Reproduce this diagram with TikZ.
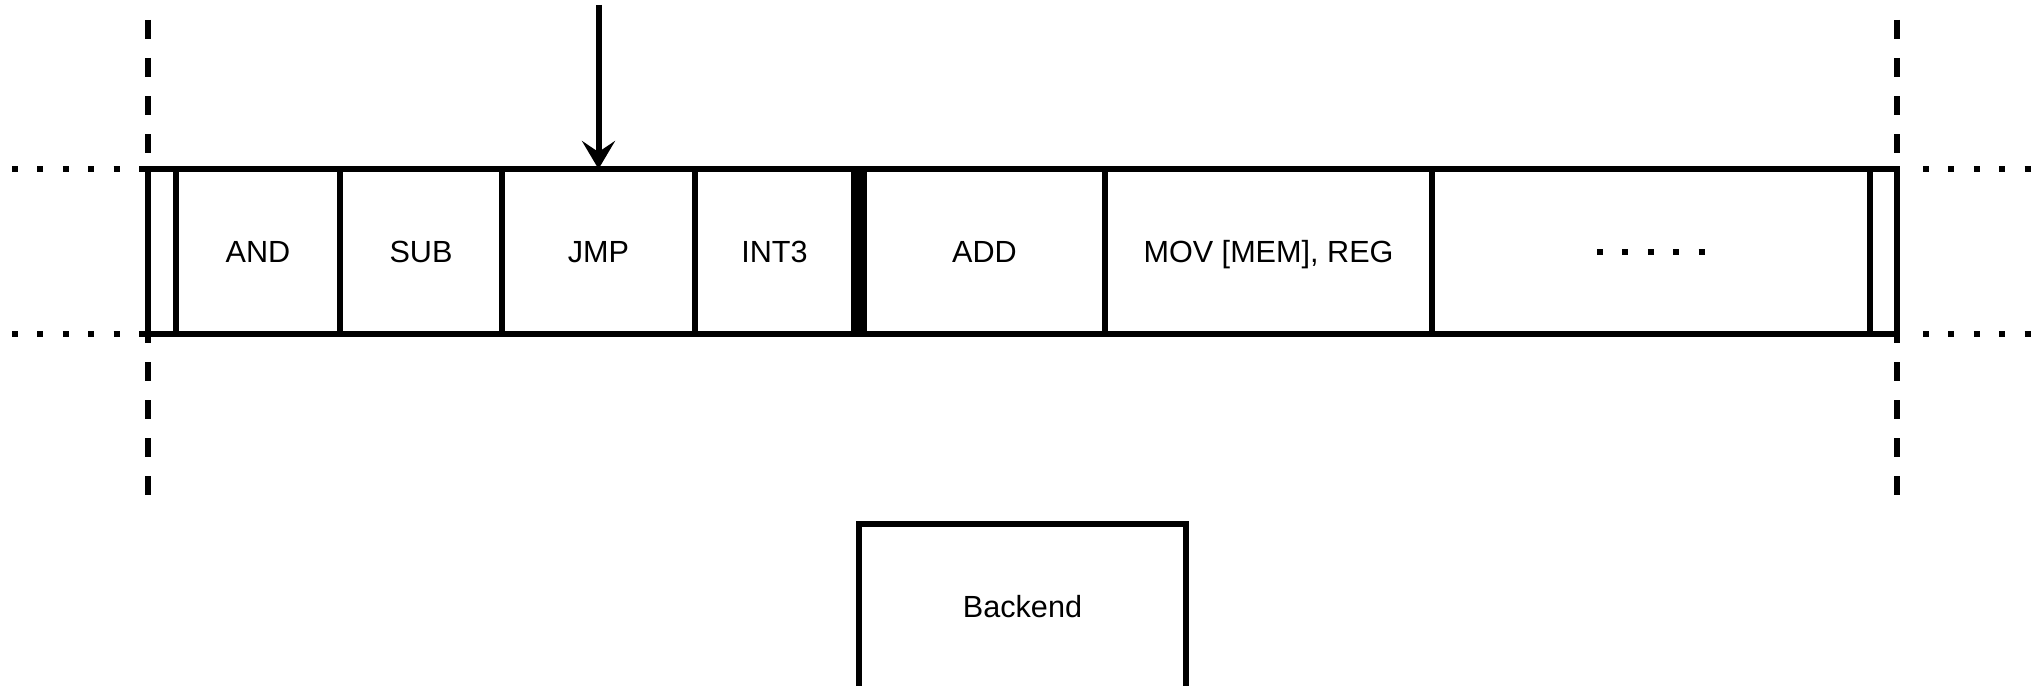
\documentclass[tikz,border=0pt]{standalone}
\usepackage{fontspec}
\setmainfont{Liberation Sans}
\usetikzlibrary{arrows.meta,positioning}

\begin{document}
\begin{tikzpicture}[
    x=1pt, y=-1pt,
    font=\fontsize{30.6}{36}\selectfont,
    cellbox/.style={
        draw=black, line width=6pt,
        minimum width=#1, minimum height=165pt,
        inner sep=0pt, outer sep=0pt,
        text height=22pt, text depth=0pt,
    },
    sepbar/.style={
        fill=black, minimum width=10pt, minimum height=171pt,
        inner sep=0pt, outer sep=0pt,
    },
    guideline/.style={line width=6pt, dash pattern=on 19pt off 19pt},
    dotline/.style={line width=6pt, dash pattern=on 6pt off 19.4pt},
    feedarrow/.style={-{Stealth[length=28pt,width=33pt,inset=11pt]}, line width=6pt},
]
\useasboundingbox (0,0) rectangle (2036,685);

% ============================================================
% INSTRUCTION STREAM (cells side by side)
% ============================================================
\node[cellbox=28pt] (padl) at (162,251.5) {};
\node[cellbox=164pt, right=0pt of padl] (and) {AND};
\node[cellbox=162pt, right=0pt of and] (sub) {SUB};
\node[cellbox=193pt, right=0pt of sub] (jmp) {JMP};
\node[cellbox=159pt, right=0pt of jmp] (int) {INT3};
\node[sepbar, right=0pt of int] (bar) {};
\node[cellbox=241pt, right=0pt of bar] (add) {ADD};
\node[cellbox=327pt, right=0pt of add] (mov) {MOV [MEM], REG};
\node[cellbox=438pt, right=0pt of mov] (more) {};
\node[cellbox=27pt, right=0pt of more] (padr) {};

% more instructions follow
\draw[dotline] ([xshift=-54pt]more.center) -- ([xshift=54pt]more.center);

% ============================================================
% WINDOW LIMITS (dashed) and stream continuation (dotted)
% ============================================================
\draw[guideline] ([yshift=149pt]padl.north west) -- ([yshift=-163pt]padl.south west);
\draw[guideline] ([yshift=149pt]padr.north east) -- ([yshift=-163pt]padr.south east);

\draw[dotline] ([xshift=-136pt]padl.north west) -- (padl.north west);
\draw[dotline] ([xshift=-136pt]padl.south west) -- (padl.south west);
\draw[dotline] ([xshift=26pt]padr.north east) -- ([xshift=139pt]padr.north east);
\draw[dotline] ([xshift=26pt]padr.south east) -- ([xshift=139pt]padr.south east);

% ============================================================
% FETCH POINTER and BACKEND
% ============================================================
\coordinate (feed) at (jmp.north |- 0,5);
\draw[feedarrow] (feed) -- (jmp.north);

\node[cellbox=327.5pt] (backend) at (1022.5,606.5) {Backend};

\end{tikzpicture}
\end{document}
